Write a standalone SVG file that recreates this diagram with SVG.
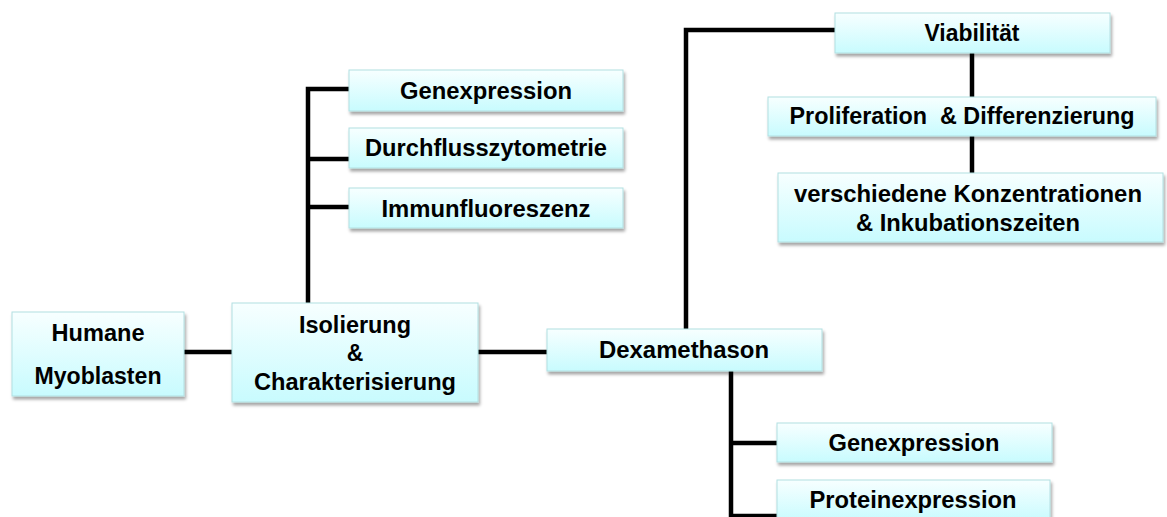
<svg xmlns="http://www.w3.org/2000/svg" width="1167" height="517" viewBox="0 0 1167 517">
<defs>
<linearGradient id="bx" x1="0" y1="0" x2="0" y2="1">
<stop offset="0" stop-color="#f7ffff"/>
<stop offset="1" stop-color="#c8fbfe"/>
</linearGradient>
<filter id="sh" x="-5%" y="-10%" width="115%" height="140%">
<feDropShadow dx="1.5" dy="3" stdDeviation="1.5" flood-color="#000" flood-opacity="0.35"/>
</filter>
<style>
.box{fill:url(#bx);stroke:#b2dfe2;stroke-width:1;filter:url(#sh)}
.t{font-family:"Liberation Sans",Arial,sans-serif;font-weight:bold;font-size:23px;fill:#000;text-anchor:middle}
.c{fill:none;stroke:#000;stroke-width:4.5;stroke-linejoin:miter}
</style>
</defs>
<rect width="1167" height="517" fill="#fff"/>
<g id="connectors">
<path class="c" d="M184,352 H232"/>
<path class="c" d="M478,352 H548"/>
<path class="c" d="M308,303 V89 H349 M308,159 H349 M308,207 H349"/>
<path class="c" d="M686,329 V30 H835"/>
<path class="c" d="M972,53 V173"/>
<path class="c" d="M731,371 V517 M731,443 H777 M731,516 H777"/>
</g>
<g id="n-humane">
<rect class="box" x="12" y="312" width="172" height="84"/>
<text class="t" x="98" y="341" textLength="93" lengthAdjust="spacingAndGlyphs">Humane</text>
<text class="t" x="98" y="384" textLength="127" lengthAdjust="spacingAndGlyphs">Myoblasten</text>
</g>
<g id="n-isolierung">
<rect class="box" x="232" y="303" width="246" height="99"/>
<text class="t" x="355" y="333" textLength="112" lengthAdjust="spacingAndGlyphs">Isolierung</text>
<text class="t" x="355" y="361">&amp;</text>
<text class="t" x="355" y="390" textLength="202" lengthAdjust="spacingAndGlyphs">Charakterisierung</text>
</g>
<g id="n-genexpression1">
<rect class="box" x="349" y="70" width="274" height="41"/>
<text class="t" x="486" y="99" textLength="172" lengthAdjust="spacingAndGlyphs">Genexpression</text>
</g>
<g id="n-durchfluss">
<rect class="box" x="349" y="128" width="274" height="40"/>
<text class="t" x="486" y="156" textLength="242" lengthAdjust="spacingAndGlyphs">Durchflusszytometrie</text>
</g>
<g id="n-immun">
<rect class="box" x="349" y="188" width="274" height="40"/>
<text class="t" x="486" y="217" textLength="209" lengthAdjust="spacingAndGlyphs">Immunfluoreszenz</text>
</g>
<g id="n-dexamethason">
<rect class="box" x="547" y="329" width="275" height="42"/>
<text class="t" x="684" y="358" textLength="170" lengthAdjust="spacingAndGlyphs">Dexamethason</text>
</g>
<g id="n-viabilitaet">
<rect class="box" x="835" y="13" width="275" height="40"/>
<text class="t" x="972" y="41" textLength="95" lengthAdjust="spacingAndGlyphs">Viabilität</text>
</g>
<g id="n-proliferation">
<rect class="box" x="768" y="97" width="388" height="39"/>
<text class="t" x="962" y="124" textLength="345" lengthAdjust="spacingAndGlyphs" xml:space="preserve">Proliferation  &amp; Differenzierung</text>
</g>
<g id="n-konzentrationen">
<rect class="box" x="778" y="173" width="385" height="69"/>
<text class="t" x="968" y="202" textLength="348" lengthAdjust="spacingAndGlyphs">verschiedene Konzentrationen</text>
<text class="t" x="968" y="231" textLength="224" lengthAdjust="spacingAndGlyphs">&amp; Inkubationszeiten</text>
</g>
<g id="n-genexpression2">
<rect class="box" x="777" y="423" width="275" height="39"/>
<text class="t" x="914" y="451" textLength="171" lengthAdjust="spacingAndGlyphs">Genexpression</text>
</g>
<g id="n-proteinexpression">
<rect class="box" x="777" y="480" width="273" height="42"/>
<text class="t" x="913" y="508" textLength="207" lengthAdjust="spacingAndGlyphs">Proteinexpression</text>
</g>
</svg>
